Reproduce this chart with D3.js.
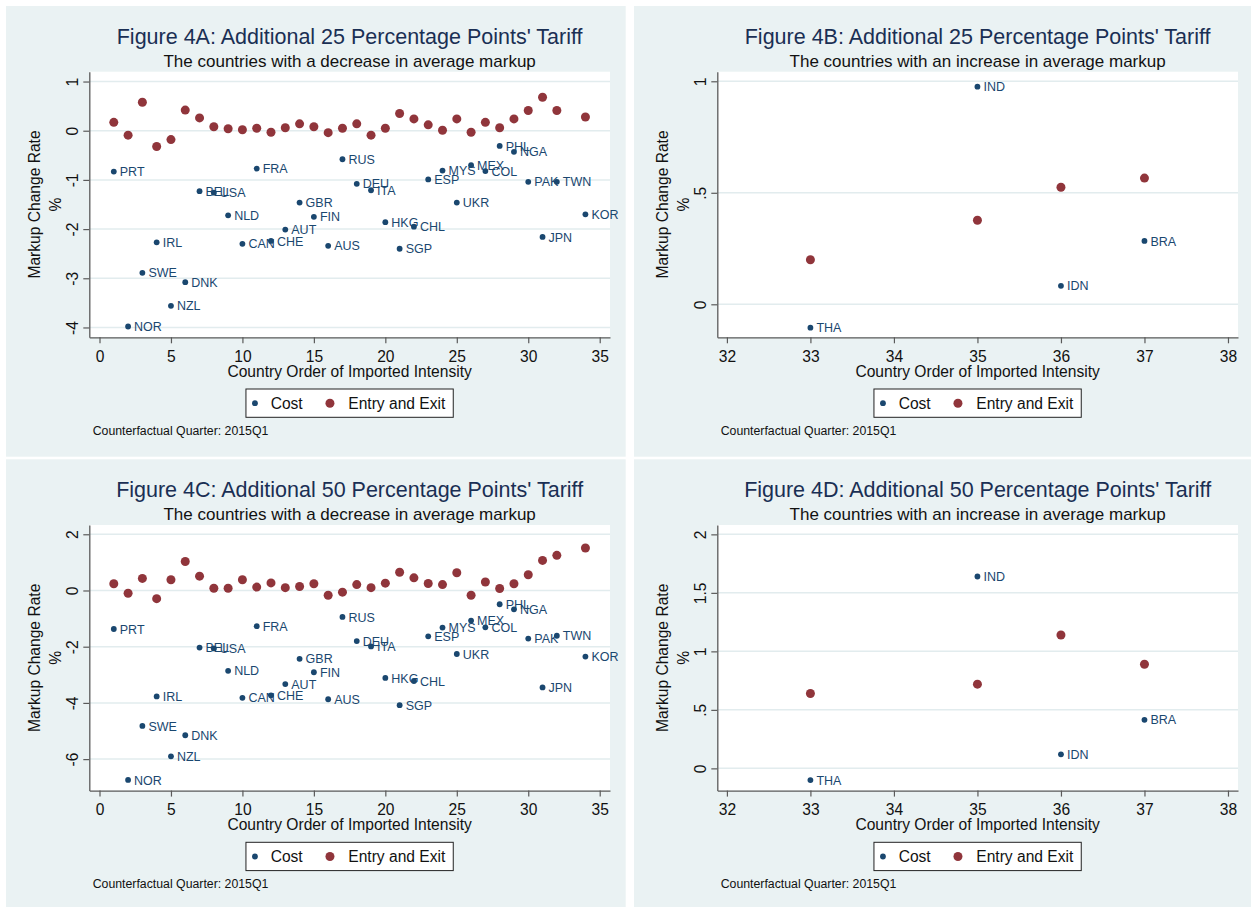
<!DOCTYPE html>
<html>
<head>
<meta charset="utf-8">
<script src="https://cdn.jsdelivr.net/npm/d3@7"></script>
<style>
  html, body { margin: 0; padding: 0; background: #ffffff; }
  svg { display: block; font-family: "Liberation Sans", Arial, sans-serif; }
</style>
</head>
<body>
<div id="chart"></div>
<script>
// countries with a decrease in average markup (panels A and C)
const decCountries = ["PRT","NOR","SWE","IRL","NZL","DNK","BEL","USA","NLD","CAN","FRA","CHE","AUT","GBR","FIN","AUS","RUS","DEU","ITA","HKG","SGP","CHL","ESP","MYS","UKR","MEX","COL","PHL","NGA","PAK","JPN","TWN","KOR"];
const decOrder = [1,2,3,4,5,6,7,8,9,10,11,12,13,14,15,16,17,18,19,20,21,22,23,24,25,26,27,28,29,30,31,32,34];

const cost25Dec = [-0.83,-3.98,-2.89,-2.27,-3.56,-3.08,-1.23,-1.26,-1.72,-2.30,-0.77,-2.24,-2.01,-1.46,-1.75,-2.34,-0.58,-1.08,-1.21,-1.86,-2.40,-1.95,-0.99,-0.81,-1.46,-0.70,-0.82,-0.31,-0.43,-1.04,-2.16,-1.04,-1.70];
const entry25Dec = [0.17,-0.09,0.58,-0.32,-0.18,0.42,0.26,0.08,0.04,0.02,0.05,-0.03,0.06,0.14,0.08,-0.04,0.05,0.14,-0.09,0.05,0.35,0.24,0.12,0.01,0.24,-0.03,0.17,0.06,0.24,0.41,0.68,0.41,0.28];

const cost50Dec = [-1.37,-6.74,-4.82,-3.77,-5.90,-5.15,-2.03,-2.06,-2.86,-3.82,-1.27,-3.73,-3.33,-2.43,-2.91,-3.87,-0.94,-1.80,-1.99,-3.11,-4.08,-3.22,-1.63,-1.32,-2.26,-1.07,-1.31,-0.49,-0.67,-1.71,-3.45,-1.61,-2.35];
const entry50Dec = [0.24,-0.10,0.43,-0.29,0.38,1.03,0.51,0.08,0.08,0.38,0.12,0.27,0.10,0.14,0.24,-0.17,-0.06,0.21,0.10,0.26,0.65,0.45,0.25,0.21,0.63,-0.17,0.30,0.07,0.24,0.56,1.07,1.25,1.51];

// countries with an increase in average markup (panels B and D)
const incCountries = ["THA","IND","IDN","BRA"];
const incOrder = [33,35,36,37];
const cost25Inc = [-0.105,0.976,0.083,0.284];
const entry25Inc = [0.20,0.377,0.525,0.566];
const cost50Inc = [-0.10,1.64,0.12,0.415];
const entry50Inc = [0.64,0.72,1.14,0.89];

// axis ticks
const xTicksDec = [0,5,10,15,20,25,30,35];
const xTicksInc = [32,33,34,35,36,37,38];
const yTicksA = [-4,-3,-2,-1,0,1];
const yTicksC = [-6,-4,-2,0,2];
const yTicksB = [0,0.5,1];
const yTicksD = [0,0.5,1,1.5,2];

const subDec = "The countries with a decrease in average markup";
const subInc = "The countries with an increase in average markup";

const panels = [
  { x0: 6,   y0: 6,     title: "Figure 4A: Additional 25 Percentage Points' Tariff", sub: subDec,
    names: decCountries, order: decOrder, cost: cost25Dec, entry: entry25Dec,
    xDom: [-0.714, 35.72], yDom: [-4.2, 1.2], xTicks: xTicksDec, yTicks: yTicksA },
  { x0: 634, y0: 6,     title: "Figure 4B: Additional 25 Percentage Points' Tariff", sub: subInc,
    names: incCountries, order: incOrder, cost: cost25Inc, entry: entry25Inc,
    xDom: [31.885, 38.12], yDom: [-0.148, 1.043], xTicks: xTicksInc, yTicks: yTicksB },
  { x0: 6,   y0: 459.3, title: "Figure 4C: Additional 50 Percentage Points' Tariff", sub: subDec,
    names: decCountries, order: decOrder, cost: cost50Dec, entry: entry50Dec,
    xDom: [-0.714, 35.72], yDom: [-7.12, 2.33], xTicks: xTicksDec, yTicks: yTicksC },
  { x0: 634, y0: 459.3, title: "Figure 4D: Additional 50 Percentage Points' Tariff", sub: subInc,
    names: incCountries, order: incOrder, cost: cost50Inc, entry: entry50Inc,
    xDom: [31.885, 38.12], yDom: [-0.19, 2.08], xTicks: xTicksInc, yTicks: yTicksD }
];

const NAVY = "#1a476f";
const MAROON = "#90353b";
const PANEL_BG = "#eaf2f3";
const GRID = "#e2ecee";
const AXIS = "#5a5a5a";

const W = 1251, H = 907;
const PW = 619.7, PH = 450.7;
const plot = { left: 83.3, top: 65.7, right: 604, bottom: 331.3 };

const fmt = d => {
  if (d === 0) return "0";
  let s = String(d);
  if (s.startsWith("0.")) s = s.slice(1);
  if (s.startsWith("-0.")) s = "-" + s.slice(2);
  return s;
};

const svg = d3.select("#chart").append("svg")
  .attr("width", W).attr("height", H);

panels.forEach(p => {
  const g = svg.append("g").attr("transform", `translate(${p.x0},${p.y0})`);

  g.append("rect")
    .attr("width", PW).attr("height", PH)
    .attr("fill", PANEL_BG);

  const x = d3.scaleLinear().domain(p.xDom).range([plot.left, plot.right]);
  const y = d3.scaleLinear().domain(p.yDom).range([plot.bottom, plot.top]);
  const cx = (plot.left + plot.right) / 2;

  // Titres
  g.append("text")
    .attr("x", cx).attr("y", 37.5)
    .attr("text-anchor", "middle")
    .attr("font-size", "21.5px")
    .attr("fill", "#1a2f54")
    .text(p.title);

  g.append("text")
    .attr("x", cx).attr("y", 60.5)
    .attr("text-anchor", "middle")
    .attr("font-size", "17px")
    .attr("fill", "#111")
    .text(p.sub);

  // Zone de tracé
  g.append("rect")
    .attr("x", plot.left).attr("y", plot.top)
    .attr("width", plot.right - plot.left)
    .attr("height", plot.bottom - plot.top)
    .attr("fill", "#ffffff");

  // Grille
  g.selectAll(".grid")
    .data(p.yTicks)
    .enter().append("line")
    .attr("x1", plot.left).attr("x2", plot.right)
    .attr("y1", d => y(d)).attr("y2", d => y(d))
    .attr("stroke", GRID)
    .attr("stroke-width", 1.5);

  // Axe X
  const gx = g.append("g")
    .attr("transform", `translate(0,${plot.bottom})`)
    .call(d3.axisBottom(x).tickValues(p.xTicks).tickSize(6).tickSizeOuter(0).tickFormat(d3.format("d")));
  gx.select(".domain").attr("stroke", AXIS).attr("stroke-width", 1.3);
  gx.selectAll("line").attr("stroke", AXIS).attr("stroke-width", 1.2);
  gx.selectAll("text")
    .attr("fill", "#111")
    .attr("font-size", "15.6px")
    .attr("font-family", "Liberation Sans, Arial, sans-serif")
    .attr("dy", null)
    .attr("y", 24.4);

  // Axe Y (étiquettes verticales)
  const gy = g.append("g")
    .attr("transform", `translate(${plot.left},0)`)
    .call(d3.axisLeft(y).tickValues(p.yTicks).tickSize(6).tickSizeOuter(0).tickFormat(fmt));
  gy.select(".domain").attr("stroke", AXIS).attr("stroke-width", 1.3);
  gy.selectAll("line").attr("stroke", AXIS).attr("stroke-width", 1.2);
  gy.selectAll("text")
    .attr("fill", "#111")
    .attr("font-size", "15.6px")
    .attr("font-family", "Liberation Sans, Arial, sans-serif")
    .attr("x", null).attr("dy", null)
    .attr("text-anchor", "middle")
    .attr("transform", "translate(-11,0) rotate(-90)");

  // Titre axe Y
  const cy = (plot.top + plot.bottom) / 2;
  g.append("text")
    .attr("transform", `translate(34.3,${cy}) rotate(-90)`)
    .attr("text-anchor", "middle")
    .attr("font-size", "15.6px")
    .attr("fill", "#111")
    .text("Markup Change Rate");
  g.append("text")
    .attr("transform", `translate(55,${cy}) rotate(-90)`)
    .attr("text-anchor", "middle")
    .attr("font-size", "15.6px")
    .attr("fill", "#111")
    .text("%");

  // Titre axe X
  g.append("text")
    .attr("x", cx).attr("y", 370.7)
    .attr("text-anchor", "middle")
    .attr("font-size", "15.6px")
    .attr("fill", "#111")
    .text("Country Order of Imported Intensity");

  // Points : coût (avec étiquettes) puis entrée/sortie
  const costData = p.names.map((n, i) => ({ name: n, x: p.order[i], v: p.cost[i] }));
  const entryData = p.names.map((n, i) => ({ x: p.order[i], v: p.entry[i] }));

  g.selectAll(".cost")
    .data(costData)
    .enter().append("circle")
    .attr("cx", d => x(d.x)).attr("cy", d => y(d.v))
    .attr("r", 2.9)
    .attr("fill", NAVY);

  g.selectAll(".lab")
    .data(costData)
    .enter().append("text")
    .attr("x", d => x(d.x) + 6)
    .attr("y", d => y(d.v))
    .attr("dy", "0.37em")
    .attr("font-size", "12.5px")
    .attr("fill", NAVY)
    .text(d => d.name);

  g.selectAll(".entry")
    .data(entryData)
    .enter().append("circle")
    .attr("cx", d => x(d.x)).attr("cy", d => y(d.v))
    .attr("r", 4.5)
    .attr("fill", MAROON);

  // Légende
  const lx = cx - 103.7;
  const leg = g.append("g").attr("transform", `translate(${lx},383)`);
  leg.append("rect")
    .attr("width", 207.3).attr("height", 28.3)
    .attr("fill", "#ffffff")
    .attr("stroke", "#222")
    .attr("stroke-width", 1);
  leg.append("circle").attr("cx", 9).attr("cy", 14.2).attr("r", 2.9).attr("fill", NAVY);
  leg.append("text").attr("x", 24.7).attr("y", 19.6)
    .attr("font-size", "15.6px").attr("fill", "#111").text("Cost");
  leg.append("circle").attr("cx", 84).attr("cy", 14.2).attr("r", 4.5).attr("fill", MAROON);
  leg.append("text").attr("x", 102.3).attr("y", 19.6)
    .attr("font-size", "15.6px").attr("fill", "#111").text("Entry and Exit");

  // Note
  g.append("text")
    .attr("x", 86.7).attr("y", 429)
    .attr("font-size", "12.3px")
    .attr("fill", "#111")
    .text("Counterfactual Quarter: 2015Q1");
});
</script>
</body>
</html>
